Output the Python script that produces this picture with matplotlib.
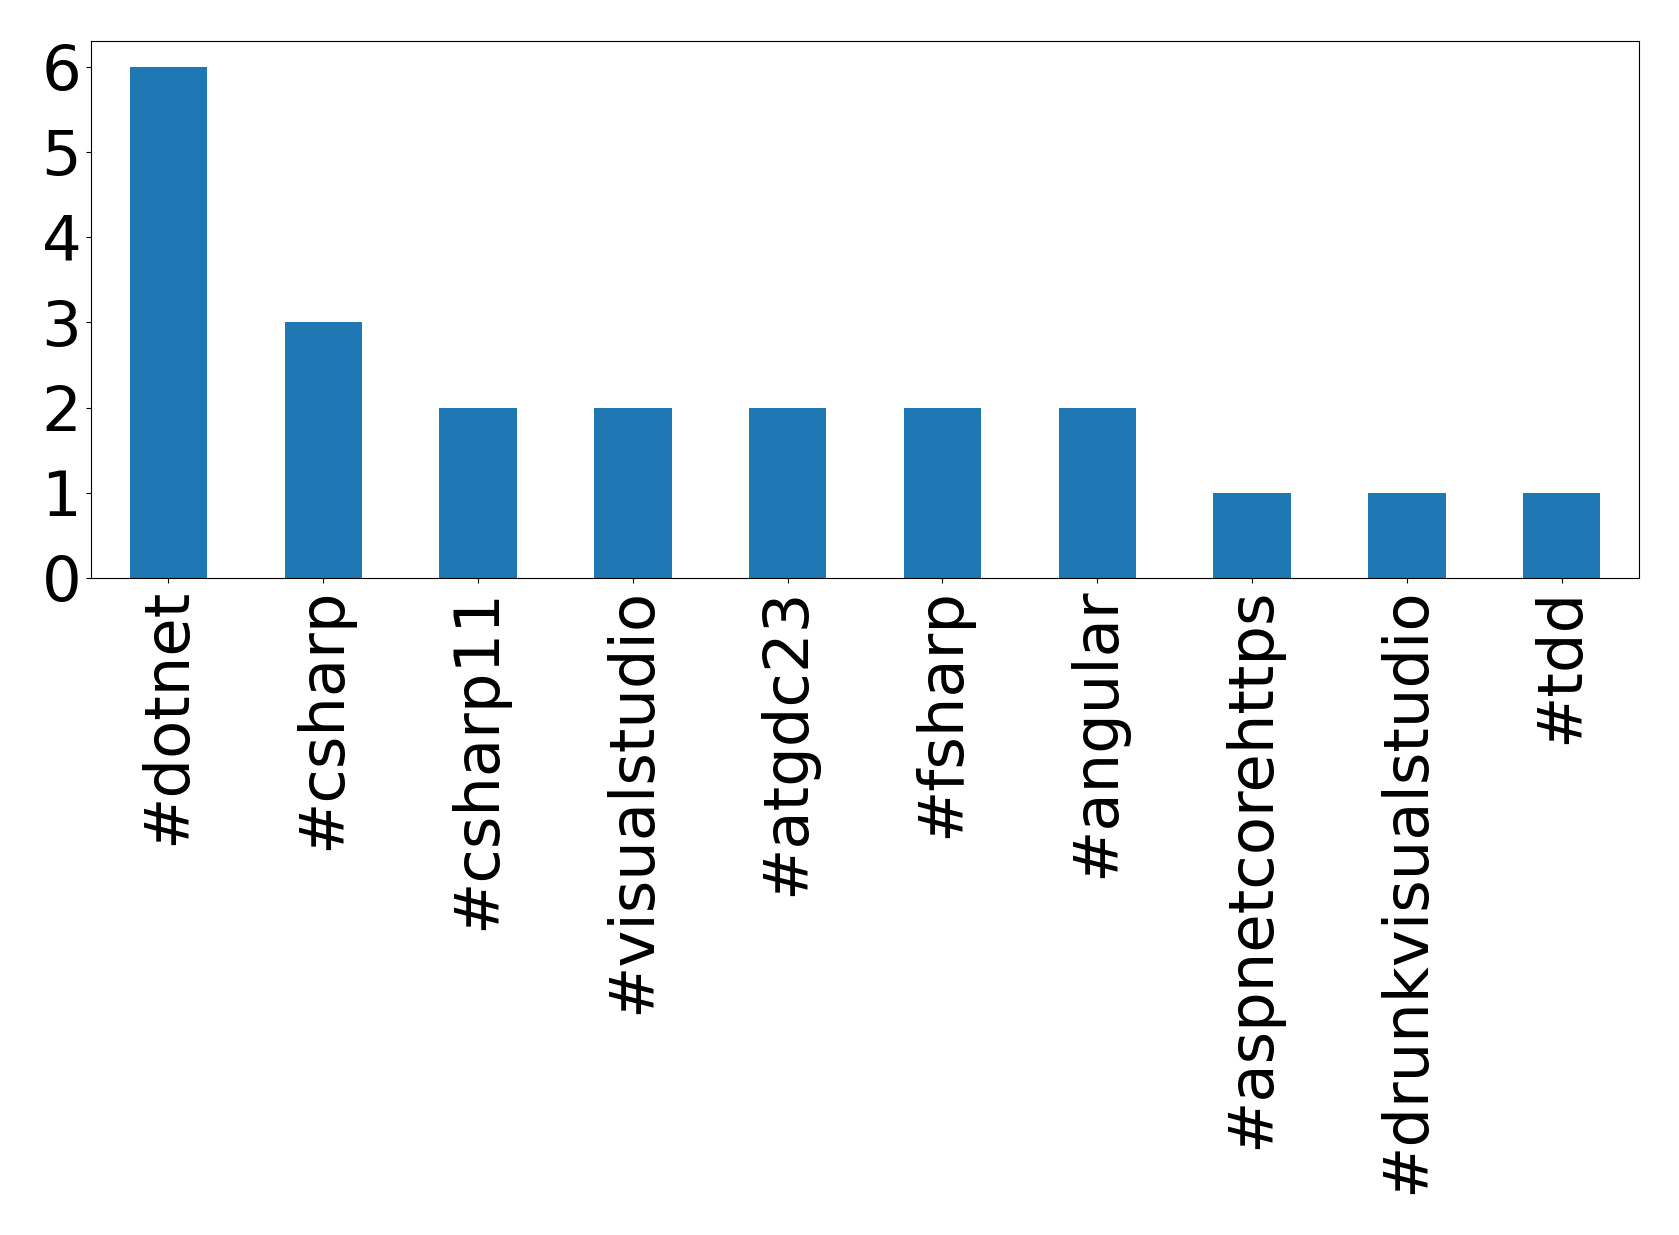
import numpy as np
import pandas as pd
import matplotlib.pyplot as plt

tags = ['#dotnet', '#csharp', '#csharp11', '#visualstudio', '#atgdc23',
        '#fsharp', '#angular', '#aspnetcorehttps', '#drunkvisualstudio', '#tdd']
counts = [6, 3, 2, 2, 2, 2, 2, 1, 1, 1]

s = pd.Series(counts, index=tags)

fig = plt.figure(figsize=(16.79, 12.35), dpi=100)
ax = fig.add_axes([91/1679, 1 - 578/1235, (1639-91)/1679, (578-41)/1235])
s.plot(kind='bar', ax=ax, color='#1f77b4', fontsize=45)
ax.set_yticks(range(0, 7))
fig.savefig('out.png', dpi=100)
